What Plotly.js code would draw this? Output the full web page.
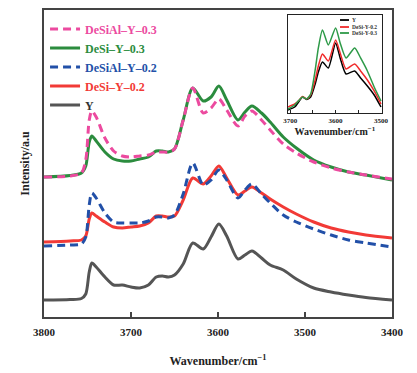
<!DOCTYPE html>
<html>
<head>
<meta charset="utf-8">
<script src="https://cdn.plot.ly/plotly-3.0.1.min.js"></script>
<style>html,body{margin:0;padding:0;background:#fff;}#chart{width:417px;height:373px;}</style>
</head>
<body>
<div id="chart"></div>
<script>
// ---- main panel data (wavenumber, cm^-1) ----
const wavenumber = [3800,3770,3757,3752,3748,3745,3740,3730,3720,3710,3700,3690,3680,3671,3664,3657,3650,3640,3629,3617,3608,3599,3590,3577,3569,3561,3550,3540,3525,3510,3490,3470,3450,3430,3400];
// intensities in arbitrary units (offset stacked as in the figure)
const Y_main        = [17,17.5,18.5,23,45,54,50,40,32,32,30,29,32,40,41,40,42,53,74,68,80,93,81,58,62,66,59,52,47,38,29,25,22,19.5,17];
const DeSi_Y_02     = [75,76,77,81,98,104,101,95,90,89,90,91,94,101,101,100,101,117,139,133,141,151,139,122,126,130,124,118,110,103,95,89,85,82,79];
const DeSiAl_Y_02   = [71,72,73,80,112,124,119,104,95,94,94,94,96,100,100,99,102,123,154,132,137,147,137,119,127,133,123,114,102,95,88,82,77,74,70];
const DeSi_Y_03     = [140,141.5,144,151,175,181,176,165,158,156,156,158,160,166,166,165,168,197,229,216,220,231,217,197,205,211,204,195,180,169,157,150,145,142,137];
const DeSiAl_Y_03   = [140,141,144,157,197,206,200,179,166,161,160,161,162,165,165,165,168,197,229,204,209,218,207,191,201,206,197,187,173,164,155,149,145,142,138];

// ---- inset data ----
const wavenumber_inset = [3705,3690,3680,3673,3664,3655,3645,3638,3629,3616,3600,3590,3577,3558,3545,3530,3515,3500];
const Y_inset        = [3,6,12,16,13.5,16,29,41,51,45,70,55,39,42,35,27,18,6];
const DeSi_Y_02_in   = [6,9,13,16.5,14,18,33,47,59,52,73,60,44,49,42,33,22,9];
const DeSi_Y_03_in   = [4,8,13,16,14,19,43,65,83,68,85,70,55,65,55,42,26,12];

const xTicks = [3800,3700,3600,3500,3400];
const xTicksInset = [3700,3600,3500];

const serif = 'Liberation Serif, Times New Roman, serif';
const cPink = '#ec4a9f', cGreen = '#2b8c3e', cBlue = '#2250a8', cRed = '#f23a36', cGray = '#555555';

const traces = [
  {x: wavenumber, y: Y_main, name: '<span style="color:#333333">Y</span>', mode:'lines', line:{color:cGray,width:3,shape:'spline',smoothing:0.8}},
  {x: wavenumber, y: DeSi_Y_02, name: '<span style="color:'+cRed+'">DeSi–Y–0.2</span>', mode:'lines', line:{color:cRed,width:3,shape:'spline',smoothing:0.8}},
  {x: wavenumber, y: DeSiAl_Y_02, name: '<span style="color:'+cBlue+'">DeSiAl–Y–0.2</span>', mode:'lines', line:{color:cBlue,width:3,dash:'8px,5px',shape:'spline',smoothing:0.8}},
  {x: wavenumber, y: DeSi_Y_03, name: '<span style="color:'+cGreen+'">DeSi–Y–0.3</span>', mode:'lines', line:{color:cGreen,width:3,shape:'spline',smoothing:0.8}},
  {x: wavenumber, y: DeSiAl_Y_03, name: '<span style="color:'+cPink+'">DeSiAl–Y–0.3</span>', mode:'lines', line:{color:cPink,width:3,dash:'8px,5px',shape:'spline',smoothing:0.8}},
  {x: wavenumber_inset, y: Y_inset, xaxis:'x2', yaxis:'y2', showlegend:false, mode:'lines', line:{color:'#000000',width:1.5,shape:'spline',smoothing:0.6}},
  {x: wavenumber_inset, y: DeSi_Y_02_in, xaxis:'x2', yaxis:'y2', showlegend:false, mode:'lines', line:{color:'#f02a2a',width:1.5,shape:'spline',smoothing:0.6}},
  {x: wavenumber_inset, y: DeSi_Y_03_in, xaxis:'x2', yaxis:'y2', showlegend:false, mode:'lines', line:{color:'#2e9a48',width:1.5,shape:'spline',smoothing:0.6}}
];

// inset legend (paper coordinates of the main plot area)
const insetLegend = [
  {label:'Y', color:'#000000', y:0.9674},
  {label:'DeSi-Y-0.2', color:'#f02a2a', y:0.9446},
  {label:'DeSi-Y-0.3', color:'#2e9a48', y:0.9251}
];
const shapes = insetLegend.map(d => ({type:'line', xref:'paper', yref:'paper', x0:0.8506, x1:0.8764, y0:d.y, y1:d.y, line:{color:d.color,width:1.8}}));
const annotations = insetLegend.map(d => ({xref:'paper', yref:'paper', x:0.8793, y:d.y, xanchor:'left', yanchor:'middle', text:d.label, showarrow:false, font:{family:serif,size:5.5,color:'#333',weight:'bold'}}));

const layout = {
  width: 417, height: 373,
  margin: {l:44, r:25, t:10, b:56},
  paper_bgcolor:'#ffffff', plot_bgcolor:'#ffffff',
  showlegend: true,
  legend: {x:0.003, y:0.985, xanchor:'left', yanchor:'top', traceorder:'reversed', bgcolor:'rgba(0,0,0,0)',
           font:{family:serif, size:12, weight:'bold'}, tracegroupgap:0},
  xaxis: {range:[3800,3400], autorange:false, tickvals:xTicks, ticks:'inside', ticklen:5, tickwidth:1.5, tickcolor:'#444',
          showline:true, linecolor:'#444', linewidth:2, mirror:true, showgrid:false, zeroline:false, ticklabelstandoff:4,
          tickfont:{family:serif,size:11,color:'#222',weight:'bold'},
          title:{text:'Wavenumber/cm<sup>−1</sup>', font:{family:serif,size:12,color:'#222',weight:'bold'}, standoff:19}},
  yaxis: {range:[0,307], autorange:false, showticklabels:false, ticks:'', showline:true, linecolor:'#444', linewidth:2, mirror:true,
          showgrid:false, zeroline:false,
          title:{text:'Intensity/a.u', font:{family:serif,size:12,color:'#222',weight:'bold'}, standoff:10}},
  xaxis2: {domain:[0.701,0.971], anchor:'y2', range:[3705,3498], autorange:false, tickvals:xTicksInset,
           ticks:'inside', ticklen:3, tickwidth:1, tickcolor:'#222', showline:true, linecolor:'#222', linewidth:1.2, mirror:true,
           minor:{dtick:50, tick0:3500, ticks:'inside', ticklen:3, tickwidth:1, tickcolor:'#222', showgrid:false},
           showgrid:false, zeroline:false, tickfont:{family:serif,size:7,color:'#222',weight:'bold'},
           title:{text:'Wavenumber/cm<sup>−1</sup>', font:{family:serif,size:10,color:'#222',weight:'bold'}, standoff:2}},
  yaxis2: {domain:[0.6645,0.984], anchor:'x2', range:[0,98], autorange:false, showticklabels:false, ticks:'', showline:true,
           linecolor:'#222', linewidth:1.2, mirror:true, showgrid:false, zeroline:false},
  shapes: shapes,
  annotations: annotations
};

Plotly.newPlot('chart', traces, layout, {displayModeBar:false, staticPlot:true});
</script>
</body>
</html>
